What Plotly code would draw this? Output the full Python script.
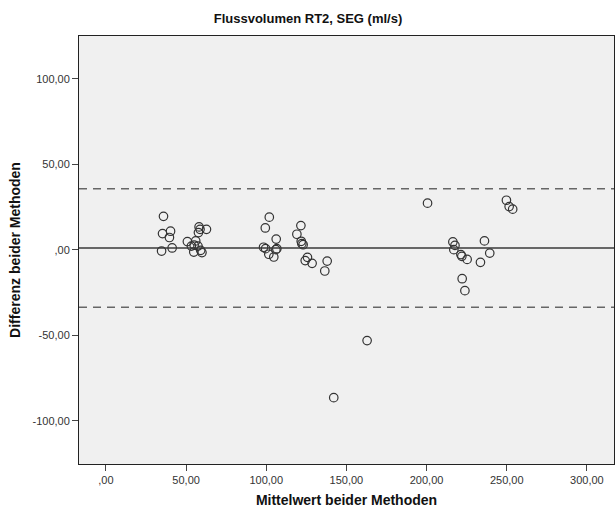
import plotly.graph_objects as go

# Bland-Altman data: mean of both methods vs. difference between methods
mittelwert = [
    35.9, 35.3, 40.3, 39.6, 41.3, 34.7,
    50.8, 53.3, 55.0, 56.0, 57.4, 54.8, 59.1, 59.9, 58.1, 57.7, 58.7, 62.7,
    101.9, 99.4, 106.2, 98.3, 99.6, 106.6, 106.0, 101.6, 104.7,
    121.6, 119.1, 121.8, 122.2, 123.0, 125.7, 124.3, 128.6, 138.0, 136.5,
    162.9, 142.1,
    200.6, 249.8, 251.5, 253.7,
    216.4, 217.7, 217.0, 221.4, 222.0, 225.3, 236.1, 239.4, 233.6, 222.2, 223.9,
]
differenz = [
    19.6, 9.5, 10.9, 7.2, 1.1, -0.7,
    4.8, 2.2, 2.8, 5.2, 2.2, -1.3, -0.3, -1.6, 13.4, 10.1, 12.0, 12.0,
    19.1, 12.8, 6.3, 1.5, 0.7, 0.7, 0.1, -2.6, -4.2,
    14.2, 9.1, 5.0, 3.6, 3.0, -4.4, -6.3, -7.9, -6.6, -12.4,
    -53.1, -86.5,
    27.3, 29.0, 25.3, 23.8,
    4.6, 2.6, 0.1, -2.8, -3.8, -5.6, 5.2, -1.9, -7.3, -16.9, -23.9,
]

# Mean difference and limits of agreement
mittlere_differenz = 1.05
obere_grenze = 35.7
untere_grenze = -33.6

x_ticks = [0, 50, 100, 150, 200, 250, 300]
x_labels = [",00", "50,00", "100,00", "150,00", "200,00", "250,00", "300,00"]
y_ticks = [-100, -50, 0, 50, 100]
y_labels = ["-100,00", "-50,00", ",00", "50,00", "100,00"]

x_range = [-16.8, 316.9]
y_range = [-125.3, 125.1]

fig = go.Figure()

fig.add_trace(go.Scatter(
    x=mittelwert, y=differenz, mode="markers",
    marker=dict(symbol="circle-open", size=8.5, color="#333333",
                line=dict(width=1.2, color="#333333")),
    showlegend=False, hoverinfo="x+y",
))

# Reference lines: mean (solid) and limits of agreement (dashed)
fig.add_shape(type="line", xref="paper", yref="y", x0=0, x1=1,
              y0=mittlere_differenz, y1=mittlere_differenz,
              line=dict(color="#3a3a3a", width=1.6))
for grenze in (obere_grenze, untere_grenze):
    fig.add_shape(type="line", xref="paper", yref="y", x0=0, x1=1,
                  y0=grenze, y1=grenze,
                  line=dict(color="#666666", width=1.4, dash="8px,6px"))

font_family = "Liberation Sans, Arial, sans-serif"

fig.update_layout(
    width=616, height=511,
    margin=dict(l=79, r=2, t=36, b=47),
    paper_bgcolor="white",
    plot_bgcolor="#F0F0F0",
    font=dict(family=font_family, size=11, color="#222222"),
    title=dict(text="<b>Flussvolumen RT2, SEG (ml/s)</b>",
               x=0.5, xanchor="center", y=1 - 18 / 511, yanchor="middle",
               font=dict(size=13, color="#111111")),
    xaxis=dict(
        range=x_range, tickvals=x_ticks, ticktext=x_labels,
        showgrid=False, zeroline=False,
        ticks="outside", ticklen=6, tickwidth=1, tickcolor="#444444",
        showline=True, linecolor="#222222", linewidth=1, mirror=True,
        tickfont=dict(size=11, color="#333333"),
        title=dict(text="<b>Mittelwert beider Methoden</b>", standoff=9,
                   font=dict(size=14, color="#111111")),
    ),
    yaxis=dict(
        range=y_range, tickvals=y_ticks, ticktext=y_labels,
        showgrid=False, zeroline=False,
        ticks="outside", ticklen=6, tickwidth=1, tickcolor="#444444",
        showline=True, linecolor="#222222", linewidth=1, mirror=True,
        tickfont=dict(size=11, color="#333333"),
        title=dict(text="<b>Differenz beider Methoden</b>", standoff=8,
                   font=dict(size=14, color="#111111")),
    ),
)

fig.write_html("out.html")
